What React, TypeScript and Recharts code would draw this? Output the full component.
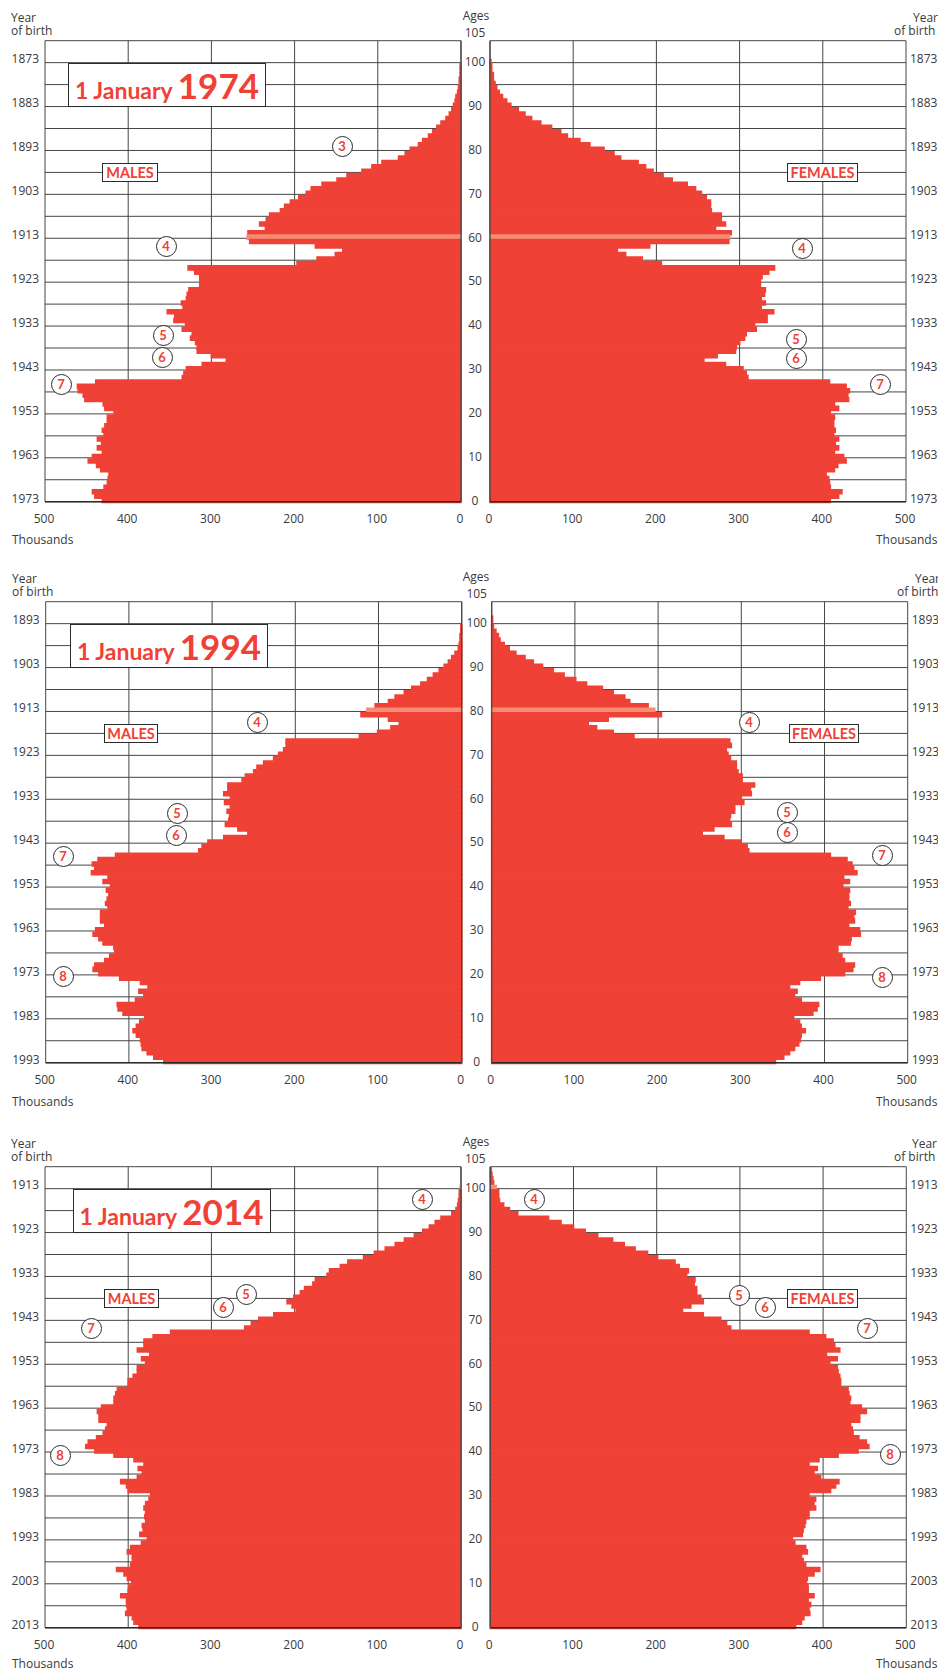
import React from 'react';
import { BarChart, Bar, XAxis, YAxis, CartesianGrid, Cell, ReferenceLine } from 'recharts';

// every list runs from age 104 at the top down to age 0, five ages per row
const males1974 = [
  0, 0, 0, 0, 0,
  1, 1, 1, 2, 2,
  3, 4, 6, 7, 9,
  11, 14, 18, 24, 29,
  34, 39, 46, 51, 61,
  67, 75, 95, 107, 119,
  137, 149, 167, 180, 186,
  195, 205, 212, 217, 230,
  234, 242, 235, 256, 257,
  254, 175, 142, 151, 173,
  197, 328, 320, 314, 314,
  314, 327, 329, 330, 336,
  334, 353, 344, 345, 331,
  335, 323, 325, 319, 317,
  317, 300, 282, 311, 330,
  333, 335, 439, 461, 460,
  454, 452, 430, 428, 417,
  425, 425, 428, 431, 429,
  437, 432, 437, 431, 443,
  448, 438, 433, 423, 424,
  425, 429, 443, 440, 431,
];
const females1974 = [
  0, 0, 0, 0, 1,
  2, 2, 4, 4, 6,
  8, 11, 15, 20, 25,
  34, 42, 50, 61, 74,
  85, 93, 108, 120, 137,
  149, 157, 178, 187, 196,
  208, 219, 237, 247, 254,
  260, 265, 265, 266, 278,
  278, 283, 271, 290, 288,
  287, 192, 153, 163, 183,
  206, 342, 335, 327, 325,
  325, 331, 330, 326, 331,
  326, 341, 333, 333, 318,
  320, 308, 306, 300, 296,
  295, 273, 257, 283, 304,
  308, 310, 408, 428, 432,
  430, 431, 414, 419, 409,
  414, 413, 413, 415, 413,
  419, 415, 419, 414, 425,
  428, 418, 414, 404, 407,
  408, 409, 423, 419, 409,
];
const males1994 = [
  0, 0, 0, 0, 0,
  1, 1, 2, 2, 3,
  4, 8, 12, 16, 21,
  27, 34, 41, 49, 60,
  69, 80, 88, 104, 114,
  121, 88, 75, 85, 101,
  123, 211, 211, 214, 220,
  226, 238, 246, 250, 260,
  264, 281, 281, 286, 278,
  285, 278, 282, 279, 280,
  284, 269, 257, 286, 305,
  312, 316, 416, 437, 444,
  441, 445, 425, 431, 422,
  427, 424, 426, 428, 425,
  434, 434, 434, 429, 440,
  443, 436, 431, 418, 417,
  423, 429, 441, 443, 436,
  411, 386, 377, 388, 382,
  392, 414, 413, 407, 381,
  387, 391, 395, 391, 386,
  385, 384, 378, 370, 358,
];
const females1994 = [
  0, 0, 0, 1, 1,
  2, 5, 8, 10, 15,
  21, 29, 40, 50, 61,
  74, 87, 101, 114, 133,
  146, 160, 166, 188, 196,
  204, 140, 116, 126, 146,
  171, 286, 288, 282, 284,
  287, 294, 294, 296, 301,
  301, 316, 311, 312, 300,
  303, 292, 292, 287, 286,
  288, 267, 253, 279, 300,
  307, 309, 407, 427, 433,
  435, 439, 423, 430, 422,
  430, 429, 429, 431, 428,
  437, 435, 436, 429, 442,
  443, 432, 431, 416, 416,
  421, 424, 436, 434, 424,
  395, 370, 358, 367, 364,
  372, 393, 391, 386, 363,
  370, 372, 377, 372, 371,
  369, 364, 358, 351, 341,
];
const males2014 = [
  0, 0, 0, 0, 1,
  2, 2, 3, 4, 6,
  11, 24, 31, 38, 46,
  56, 68, 79, 91, 104,
  117, 136, 145, 158, 161,
  175, 178, 188, 193, 201,
  209, 203, 198, 225, 243,
  252, 260, 349, 370, 381,
  381, 389, 374, 384, 379,
  389, 389, 394, 400, 400,
  413, 415, 417, 417, 432,
  437, 435, 435, 425, 427,
  430, 438, 448, 451, 440,
  417, 393, 381, 388, 383,
  389, 409, 402, 400, 373,
  375, 379, 381, 379, 380,
  379, 383, 382, 386, 377,
  384, 397, 401, 395, 395,
  397, 414, 405, 401, 396,
  399, 400, 409, 402, 402,
  401, 403, 395, 393, 387,
];
const females2014 = [
  1, 2, 3, 4, 7,
  10, 10, 11, 16, 23,
  33, 70, 85, 100, 114,
  129, 147, 161, 174, 189,
  201, 222, 227, 238, 236,
  246, 245, 248, 248, 253,
  256, 241, 231, 256, 277,
  284, 289, 383, 403, 412,
  414, 420, 404, 417, 408,
  417, 418, 420, 421, 421,
  430, 431, 433, 432, 446,
  452, 444, 444, 433, 435,
  436, 443, 452, 455, 442,
  418, 395, 383, 393, 389,
  397, 419, 415, 409, 383,
  391, 389, 391, 383, 383,
  379, 378, 376, 375, 363,
  366, 379, 381, 374, 376,
  379, 396, 389, 381, 380,
  382, 382, 389, 382, 385,
  383, 384, 377, 374, 367,
];

const ageTicks = [0, 5, 10, 15, 20, 25, 30, 35, 40, 45, 50, 55, 60, 65, 70, 75, 80, 85, 90, 95, 100, 105];
const valueTicks = [0, 100, 200, 300, 400, 500];

const RED = '#ef4136';
const PALE = '#f58c75';
const INK = '#3a3a3a';
const LINE = '#454545';
const FONT = '"Open Sans", sans-serif';
const TITLE_FONT = 'Lato, sans-serif';
const PLOT_W = 416;
const PLOT_H = 461;

// recharts floors the bar height to 4px, so a stroke closes the gaps between ages;
// the 0.32 (not 0.5) keeps the visible part of each bar between its two age lines
const toRows = (values: number[]) => values.map((value, i) => ({ ageRow: 104 - i, age: 104 - i + 0.32, value }));

const Panel = ({ values, side, left, top, lastYear, paleAge }: any) => {
  const isMale = side === 'male';
  const rows = toRows(values);

  const yearTick = (anchor: 'start' | 'end') => (p: any) => {
    if (p.payload.value % 10 !== 0 || p.payload.value > 100) return <g />;
    return (
      <text x={anchor === 'end' ? p.x + 2 : p.x - 4} y={p.y - 3.5} dy="0.36em" textAnchor={anchor} fontSize={12} fontFamily={FONT} fill={INK}>
        {lastYear - p.payload.value}
      </text>
    );
  };
  const ageTick = (p: any) => {
    if (p.payload.value % 10 !== 0 && p.payload.value !== 105) return <g />;
    return (
      <text x={p.x - 7} y={p.payload.value === 105 ? p.y - 8 : p.y - 1} dy="0.36em" textAnchor="middle" fontSize={12} fontFamily={FONT} fill={INK}>
        {p.payload.value}
      </text>
    );
  };
  const valueTick = (p: any) => (
    <text x={p.x - 1} y={p.y + 9} dy="0.36em" textAnchor="middle" fontSize={12} fontFamily={FONT} fill={INK}>
      {p.payload.value}
    </text>
  );

  const boxLeft = Math.floor(left);
  const marginLeft = left - boxLeft;
  const gutter = isMale ? 45 : 60;
  const boxTop = Math.floor(top) - 20;
  const marginTop = top - boxTop;

  return (
    <div style={{ position: 'absolute', left: boxLeft - gutter, top: boxTop }}>
      <BarChart
        width={gutter + marginLeft + PLOT_W + 34}
        height={marginTop + PLOT_H + 30}
        data={rows}
        layout="vertical"
        margin={{ top: marginTop, bottom: 0, left: marginLeft, right: isMale ? 34 : 0 }}
      >
        <CartesianGrid stroke={LINE} strokeWidth={1} />
        <XAxis type="number" dataKey="value" domain={[0, 500]} ticks={valueTicks} reversed={isMale} height={30} axisLine={false} tickLine={false} tick={valueTick} interval={0} />
        <YAxis
          type="number"
          dataKey="age"
          domain={[0, 105]}
          ticks={ageTicks}
          reversed
          width={gutter}
          axisLine={false}
          tickLine={false}
          interval={0}
          tick={isMale ? yearTick('end') : ageTick}
        />
        {!isMale && (
          <YAxis
            yAxisId="years"
            orientation="right"
            type="number"
            dataKey="age"
            domain={[0, 105]}
            ticks={ageTicks}
            reversed
            width={34}
            axisLine={false}
            tickLine={false}
            interval={0}
            tick={yearTick('start')}
          />
        )}
        <Bar dataKey="value" fill={RED} stroke={RED} strokeWidth={1.6} isAnimationActive={false}>
          {rows.map((row) => {
            const color = row.ageRow === paleAge ? PALE : RED;
            return <Cell key={row.ageRow} fill={color} stroke={color} />;
          })}
        </Bar>
        <ReferenceLine x={0} stroke={LINE} strokeWidth={1.2} />
        <ReferenceLine y={0} stroke="#2b2b2b" strokeWidth={1.4} />
      </BarChart>
    </div>
  );
};

const Label = ({ x, y, text, align = 'left' }: any) => (
  <div style={{ position: 'absolute', left: align === 'center' ? x - 40 : x, top: y - 6.5, width: align === 'center' ? 80 : undefined, height: 13, lineHeight: '13px', fontFamily: FONT, fontSize: 12, color: INK, textAlign: align, whiteSpace: 'nowrap' }}>
    {text}
  </div>
);

const Tag = ({ x, y, w, text }: any) => (
  <div style={{ position: 'absolute', left: x, top: y, width: w, height: 19, boxSizing: 'border-box', border: `1px solid #2b2b2b`, background: '#fff', color: RED, fontFamily: TITLE_FONT, fontWeight: 700, fontSize: 14.5, lineHeight: '17px', textAlign: 'center' }}>
    {text}
  </div>
);

const Title = ({ x, y, year }: any) => (
  <div style={{ position: 'absolute', left: x, top: y, width: 198, height: 44, boxSizing: 'border-box', border: '1px solid #2b2b2b', background: '#fff', color: RED, fontFamily: TITLE_FONT, fontWeight: 700, textAlign: 'center', lineHeight: '42px', whiteSpace: 'nowrap' }}>
    <span style={{ fontSize: 23 }}>1 January </span>
    <span style={{ fontSize: 35 }}>{year}</span>
  </div>
);

const Badge = ({ x, y, n }: any) => (
  <div style={{ position: 'absolute', left: x - 10.5, top: y - 10.5, width: 21, height: 21, boxSizing: 'border-box', borderRadius: '50%', border: '1px solid #2b2b2b', background: '#fff', color: RED, fontFamily: TITLE_FONT, fontWeight: 700, fontSize: 13, lineHeight: '19px', textAlign: 'center' }}>
    {n}
  </div>
);

const badges: [string, number, number][] = [
  ['3', 342, 146], ['4', 166, 246], ['5', 163, 335], ['6', 162, 357], ['7', 61, 384],
  ['4', 802, 248], ['5', 796, 339], ['6', 796, 358], ['7', 880, 384],
  ['4', 257, 722], ['5', 177, 813], ['6', 176, 835], ['7', 63, 856], ['8', 63, 976],
  ['4', 749, 722], ['5', 787, 812], ['6', 787, 832], ['7', 882, 855], ['8', 882, 977],
  ['4', 422, 1199], ['5', 246, 1294], ['6', 223, 1307], ['7', 91, 1328], ['8', 60, 1455],
  ['4', 534, 1199], ['5', 739, 1295], ['6', 765, 1307], ['7', 867, 1328], ['8', 890, 1454],
];

export default function App() {
  return (
    <div style={{ position: 'absolute', left: 0, top: 0, width: 938, height: 1671, overflow: 'hidden', background: '#fff' }}>
      <Panel values={males1974} side="male" left={45} top={40.7} lastYear={1973} paleAge={60} />
      <Panel values={females1974} side="female" left={490} top={40.7} lastYear={1973} paleAge={60} />
      <Panel values={males1994} side="male" left={45.7} top={601.7} lastYear={1993} paleAge={80} />
      <Panel values={females1994} side="female" left={491.7} top={601.7} lastYear={1993} paleAge={80} />
      <Panel values={males2014} side="male" left={45} top={1166.7} lastYear={2013} paleAge={100} />
      <Panel values={females2014} side="female" left={490.3} top={1166.7} lastYear={2013} paleAge={100} />

      <Label x={11} y={17} text="Year" />
      <Label x={11} y={30} text="of birth" />
      <Label x={476} y={15} text="Ages" align="center" />
      <Label x={913} y={17} text="Year" />
      <Label x={894} y={30} text="of birth" />
      <Label x={12} y={539} text="Thousands" />
      <Label x={876} y={539} text="Thousands" />

      <Label x={12} y={578} text="Year" />
      <Label x={12} y={591} text="of birth" />
      <Label x={476} y={576} text="Ages" align="center" />
      <Label x={915} y={578} text="Year" />
      <Label x={897} y={591} text="of birth" />
      <Label x={12} y={1101} text="Thousands" />
      <Label x={876} y={1101} text="Thousands" />

      <Label x={11} y={1143} text="Year" />
      <Label x={11} y={1156} text="of birth" />
      <Label x={476} y={1141} text="Ages" align="center" />
      <Label x={912} y={1143} text="Year" />
      <Label x={894} y={1156} text="of birth" />
      <Label x={12} y={1663} text="Thousands" />
      <Label x={876} y={1663} text="Thousands" />

      <Title x={68} y={63} year="1974" />
      <Title x={70} y={624} year="1994" />
      <Title x={72.5} y={1189} year="2014" />

      <Tag x={102} y={162.5} w={56} text="MALES" />
      <Tag x={787} y={162.5} w={71} text="FEMALES" />
      <Tag x={104} y={723.5} w={54} text="MALES" />
      <Tag x={789} y={723.5} w={70} text="FEMALES" />
      <Tag x={104} y={1288.5} w={55} text="MALES" />
      <Tag x={787} y={1288.5} w={71} text="FEMALES" />

      {badges.map(([n, x, y], i) => (
        <Badge key={i} n={n} x={x} y={y} />
      ))}
    </div>
  );
}
